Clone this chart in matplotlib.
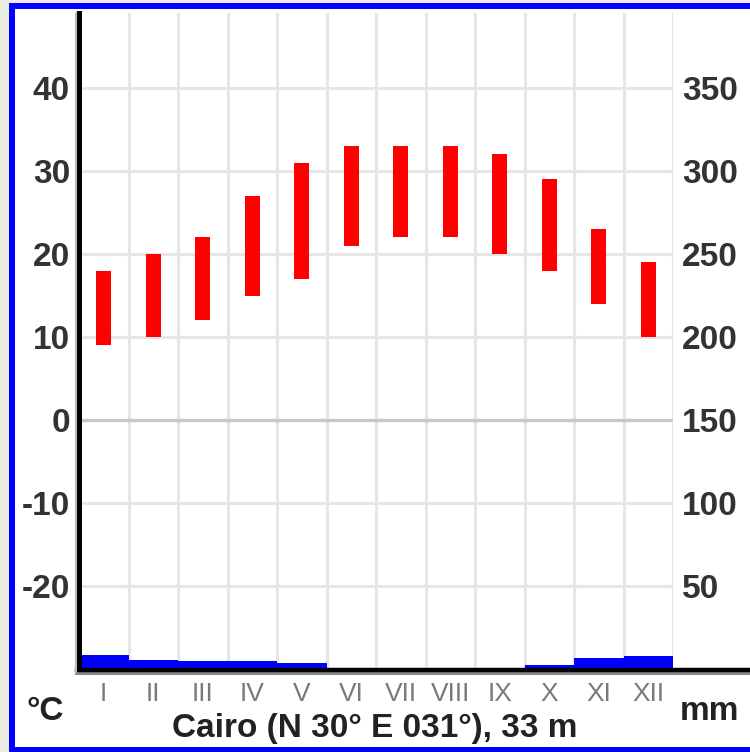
import matplotlib
matplotlib.use("Agg")
from matplotlib import pyplot as plt
from matplotlib.patches import Rectangle
from matplotlib.lines import Line2D

# 数据
months = ['I', 'II', 'III', 'IV', 'V', 'VI', 'VII', 'VIII', 'IX', 'X', 'XI', 'XII']
temp_max = [18, 20, 22, 27, 31, 33, 33, 33, 32, 29, 23, 19]
temp_min = [9, 10, 12, 15, 17, 21, 22, 22, 20, 18, 14, 10]
precip_mm = [9, 6, 5, 5, 4, 0, 0, 0, 0, 3, 7, 8]
left_ticks = [40, 30, 20, 10, 0, -10, -20]
right_ticks_mm = [350, 300, 250, 200, 150, 100, 50]
title = 'Cairo (N 30° E 031°), 33 m'

W, H = 750, 752
fig = plt.figure(figsize=(W / 100, H / 100), dpi=100)
fig.patch.set_facecolor('#e9ecdf')
FONT = ['Liberation Sans', 'DejaVu Sans']

# 蓝色边框
fig.patches.append(Rectangle((11.5 / W, 2 / H), 1.0, 1 - 7.5 / H, transform=fig.transFigure,
                             facecolor='white', edgecolor='#0000ff', linewidth=4.3, zorder=-10))

ax = fig.add_axes([79 / W, 1 - 669.5 / H, (673 - 79) / W, (669.5 - 13) / H])
ax.set_xlim(0, 12)
ax.set_ylim(-30, 49)
ax.set_facecolor('none')

# 网格
for x in range(1, 13):
    ax.axvline(x, color='#e6e6e6', lw=2.2, zorder=1)
for y in left_ticks:
    if y != 0:
        ax.axhline(y, color='#e6e6e6', lw=2.2, zorder=1)
ax.axhline(0, color='#c8c8c8', lw=2.4, zorder=1.5)

centers = [i + 0.5 for i in range(12)]
# 降水 (mm -> °C 刻度: 1°C = 5 mm, 0 mm = -30°C)
ax.bar(centers, [p / 5 for p in precip_mm], bottom=-30, width=1.0,
       color='#0000ff', edgecolor='none', zorder=2)
# 气温
ax.bar(centers, [a - b for a, b in zip(temp_max, temp_min)], bottom=temp_min,
       width=0.3, color='#ff0000', edgecolor='none', zorder=3)

for s in ['top', 'right', 'bottom']:
    ax.spines[s].set_visible(False)
ax.spines['left'].set_linewidth(3.6)
ax.spines['left'].set_color('black')
ax.spines['left'].set_zorder(5)

ax.set_yticks(left_ticks)
ax.set_yticklabels([str(t) for t in left_ticks], fontsize=24, fontweight='bold',
                   color='#333333', family=FONT)
ax.set_xticks(centers)
ax.set_xticklabels(months, fontsize=19, color='#7a7a7a', family=FONT)
ax.tick_params(axis='y', length=0, pad=6.5)
ax.tick_params(axis='x', length=0, pad=9)

ax2 = ax.twinx()
ax2.set_ylim(ax.get_ylim())
ax2.set_yticks([(m - 150) / 5 for m in right_ticks_mm])
ax2.set_yticklabels([str(m) for m in right_ticks_mm], fontsize=24, fontweight='bold',
                    color='#333333', family=FONT)
ax2.tick_params(axis='y', length=0, pad=6.5)
for s in ax2.spines.values():
    s.set_visible(False)

# 底部轴线（延伸到右边框）
fig.add_artist(Line2D([76 / W, 748 / W], [1 - 673 / H] * 2, color='#888888', lw=2.2))
fig.add_artist(Line2D([77 / W, 748 / W], [1 - 669.5 / H] * 2, color='black', lw=3.2))
fig.add_artist(Line2D([75.5 / W, 75.5 / W], [1 - 672 / H, 1 - 13 / H], color='#bbbbbb', lw=1.5))

fig.text(45 / W, 1 - 712 / H, '°C', fontsize=24, fontweight='bold', color='#222222',
         family=FONT, ha='center', va='center')
fig.text(375 / W, 1 - 728 / H, title, fontsize=24, fontweight='bold', color='#222222',
         family=FONT, ha='center', va='center')
fig.text(710 / W, 1 - 712 / H, 'mm', fontsize=24, fontweight='bold', color='#222222',
         family=FONT, ha='center', va='center')

fig.savefig('out.png', dpi=100, facecolor=fig.get_facecolor())
